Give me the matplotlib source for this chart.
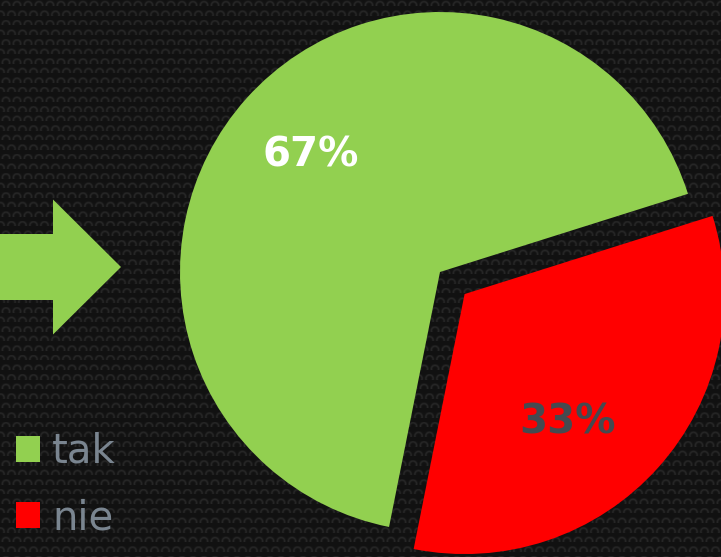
import numpy as np
import matplotlib.pyplot as plt
import matplotlib.patches as mpatches

labels = ["tak", "nie"]
shares = [67, 33]
colors = ["#92d050", "#ff0000"]
pct_colors = ["white", "#454a50"]

W, H = 721, 557
fig = plt.figure(figsize=(W / 100, H / 100), dpi=100)
fig.patch.set_facecolor("#101010")

# carbon-like background texture
bg = fig.add_axes([0, 0, 1, 1])
yy, xx = np.mgrid[0:H, 0:W].astype(float)
sp = 11.0
row = np.floor(yy / (sp * 0.87))
cx = (xx + (row % 2) * sp / 2) % sp - sp / 2
cy = yy % (sp * 0.87) - sp * 0.87 / 2
r = np.hypot(cx, cy)
ring = np.exp(-((r - 3.6) ** 2) / 1.2)
shade = 0.07 + 0.08 * ring * (cy < 1)
bg.imshow(shade, cmap="gray", vmin=0, vmax=1, aspect="auto", interpolation="bilinear")
bg.axis("off")

ax = fig.add_axes([0, 0, 1, 1])
ax.set_facecolor("none")
px = 260.0
cx0, cy0 = 440, 272

wedges, _, pcts = ax.pie(
    shares, colors=colors, explode=[0, 0.127], startangle=17.5,
    autopct="%d%%", pctdistance=0.67, radius=1,
    wedgeprops=dict(linewidth=0),
    textprops=dict(fontsize=29, fontweight="bold"),
)
for t, c in zip(pcts, pct_colors):
    t.set_color(c)
# the smaller slice's label sits lower, towards the bottom of its wedge
pcts[1].set_position(((568 - cx0) / px, (cy0 - 422) / px))

ax.set_xlim(-cx0 / px, (W - cx0) / px)
ax.set_ylim(-(H - cy0) / px, cy0 / px)
ax.set_aspect("auto")
ax.axis("off")

# arrow pointing at the chart
tail_x = -1.8
tip_x = (121 - cx0) / px
arrow = mpatches.FancyArrow(
    tail_x, (cy0 - 267) / px, tip_x - tail_x, 0,
    width=66 / px, head_width=135 / px, head_length=68 / px,
    length_includes_head=True, color="#92d050", linewidth=0,
)
ax.add_patch(arrow)

leg = ax.legend(
    wedges, labels, loc="lower left", bbox_to_anchor=(0.0, 0.005),
    frameon=False, fontsize=29, handlelength=0.6, handleheight=0.6,
    handletextpad=0.3, labelspacing=0.65, borderaxespad=0,
)
for t in leg.get_texts():
    t.set_color("#7a8590")

fig.savefig("out.png", dpi=100, facecolor=fig.get_facecolor())
